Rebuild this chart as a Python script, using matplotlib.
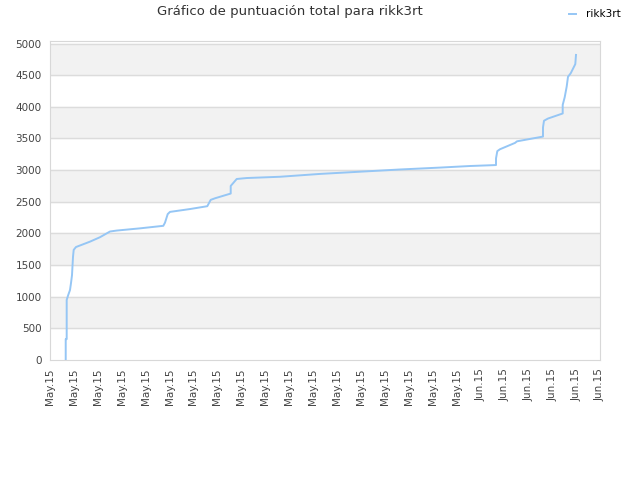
import matplotlib
matplotlib.use('Agg')
import matplotlib.pyplot as plt

# time axis in tick units (0..23), score values
t = [0.657, 0.657, 0.698, 0.698, 0.765, 0.836, 0.878, 0.920, 0.962, 0.991,
     1.087, 1.673, 2.091, 2.509, 2.789, 3.763, 4.738, 4.809, 4.922, 5.018,
     5.855, 6.578, 6.720, 6.900, 7.557, 7.557, 7.808, 8.226, 9.619, 11.291,
     12.964, 14.637, 16.309, 17.564, 18.651, 18.651, 18.706, 18.818, 19.446, 19.529,
     20.616, 20.616, 20.658, 20.825, 21.440, 21.440, 21.523, 21.607, 21.662, 21.775,
     21.967, 21.996]
score = [0, 330, 330, 950, 1030, 1105, 1215, 1340, 1630, 1740,
         1785, 1870, 1940, 2030, 2045, 2080, 2120, 2170, 2305, 2340,
         2385, 2430, 2530, 2555, 2630, 2750, 2860, 2875, 2895, 2940,
         2975, 3010, 3040, 3065, 3080, 3185, 3300, 3330, 3430, 3455,
         3530, 3675, 3780, 3815, 3895, 4030, 4150, 4320, 4475, 4530,
         4675, 4820]
xlabels = ['May.15'] * 18 + ['Jun.15'] * 6

fig = plt.figure(figsize=(6.4, 4.8), dpi=100)
ax = fig.add_axes([50/640, 120/480, 550/640, 319/480])

# alternating bands
for lo in range(500, 5000, 1000):
    ax.axhspan(lo, lo + 500, color='#f2f2f2', zorder=0)
for y in range(500, 5001, 500):
    ax.axhline(y, color='#dcdcdc', lw=1, zorder=1)

ax.plot(t, score, color='#95c6f5', lw=1.4, zorder=3, label='rikk3rt')

ax.set_xlim(0, 23)
ax.set_ylim(0, 5040)
ax.set_yticks(range(0, 5001, 500))
ax.set_xticks(range(24))
ax.set_xticklabels(xlabels, rotation=90)
ax.tick_params(length=0, labelsize=7.5, colors='#444444', pad=6)
for s in ax.spines.values():
    s.set_color('#d8d8d8')

fig.text(290/640, 1 - 12/480, 'Gráfico de puntuación total para rikk3rt',
         ha='center', va='center', fontsize=9.5, color='#333333')
fig.legend(loc='upper right', bbox_to_anchor=(0.985, 1.0), frameon=False,
           fontsize=7.5, handlelength=0.7, handletextpad=1.0)

plt.savefig('out.png')
